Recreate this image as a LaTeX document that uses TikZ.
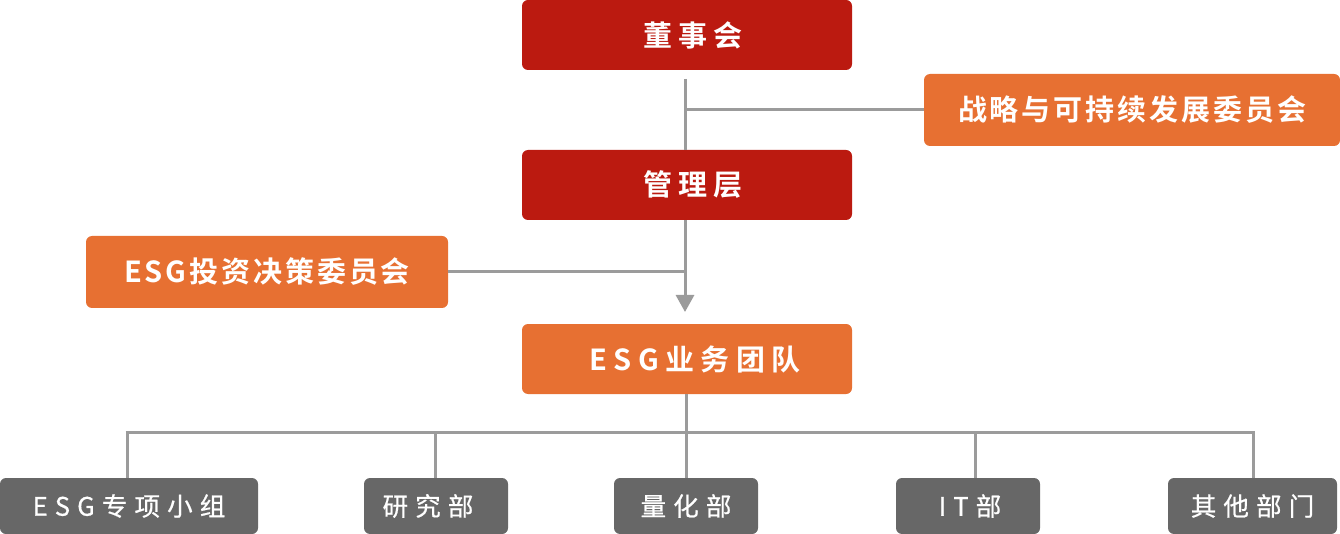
\documentclass[tikz,border=0pt]{standalone}
\usepackage{fontspec}
\newfontfamily\cjkr[LetterSpace=22]{Noto Sans CJK SC Bold}
\newfontfamily\cjko[LetterSpace=10]{Noto Sans CJK SC Bold}
\newfontfamily\cjkm[LetterSpace=28,FakeBold=0.7]{Noto Sans CJK SC}
\usetikzlibrary{arrows.meta}
\definecolor{boardred}{HTML}{BB1A10}
\definecolor{orangebox}{HTML}{E77032}
\definecolor{graybox}{HTML}{676767}
\definecolor{lineg}{HTML}{9B9B9B}
\tikzset{
  box/.style={rectangle, rounded corners=6pt, text=white, inner sep=0pt},
  redbox/.style={box, fill=boardred, minimum width=330pt, minimum height=70pt, font=\cjkr\fontsize{29}{32}\selectfont},
  orbox/.style={box, fill=orangebox, minimum height=72pt, font=\cjko\fontsize{29}{32}\selectfont},
  teambox/.style={box, fill=orangebox, minimum width=330pt, minimum height=70pt, font=\cjkr\fontsize{29}{32}\selectfont},
  gbox/.style={box, fill=graybox, minimum height=56pt, font=\cjkm\fontsize{25.5}{28}\selectfont},
  conn/.style={draw=lineg, line width=3pt},
}
\begin{document}
\begin{tikzpicture}[x=1pt,y=-1pt]
\useasboundingbox (0,0) rectangle (1340,534);
\node[redbox] (board) at (687,35) {\hspace*{12pt}董事会};
\node[orbox, minimum width=416pt] (strat) at (1132,110) {战略与可持续发展委员会};
\node[redbox] (mgmt) at (687,185) {\hspace*{12pt}管理层};
\node[orbox, minimum width=362pt] (invest) at (267,272) {ESG投资决策委员会};
\node[teambox] (team) at (687,359) {\hspace*{16pt}ESG业务团队};
\node[gbox, minimum width=258pt] (g1) at (129,506) {ESG专项小组};
\node[gbox, minimum width=144pt] (g2) at (436,506) {研究部\hspace*{16pt}};
\node[gbox, minimum width=144pt] (g3) at (686,506) {量化部};
\node[gbox, minimum width=144pt] (g4) at (968,506) {\hspace*{4pt}IT部};
\node[gbox, minimum width=169pt] (g5) at (1252.5,506) {其他部门};
% upper connectors
\coordinate (c1) at (685,79);
\coordinate (c2) at (685,312);
\draw[conn] (c1) -- (c1 |- mgmt.north);
\draw[conn] (c1 |- strat.west) -- (strat.west);
\draw[conn, -{Triangle[length=17pt,width=18pt]}] (c1 |- mgmt.south) -- (c2);
\draw[conn] (invest.east) -- (invest.east -| c2);
% lower connectors
\coordinate (b1) at (127,432);
\coordinate (b2) at (435,432);
\coordinate (b3) at (686,432);
\coordinate (b4) at (975,432);
\coordinate (b5) at (1253,432);
\draw[conn] (team.south -| b3) -- (b3);
\draw[conn] ([xshift=-1.5pt]b1) -- ([xshift=1.5pt]b5);
\draw[conn] ([yshift=-1.5pt]b1) -- (b1 |- g1.north);
\draw[conn] (b2) -- (b2 |- g2.north);
\draw[conn] (b3) -- (b3 |- g3.north);
\draw[conn] (b4) -- (b4 |- g4.north);
\draw[conn] ([yshift=-1.5pt]b5) -- (b5 |- g5.north);
\end{tikzpicture}
\end{document}
